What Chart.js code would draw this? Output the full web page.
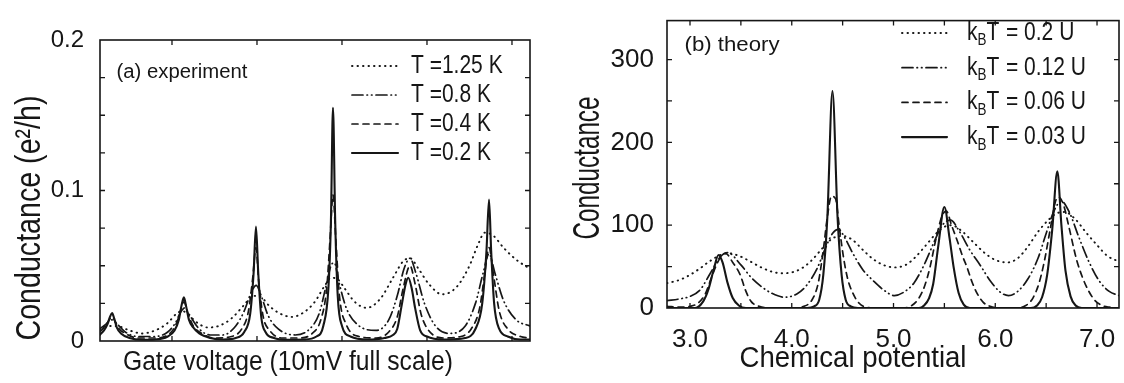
<!DOCTYPE html>
<html>
<head>
<meta charset="utf-8">
<script src="https://cdn.jsdelivr.net/npm/chart.js@4.4.1/dist/chart.umd.min.js"></script>
<style>
html, body { margin: 0; padding: 0; background: #fff; }
#wrap { position: relative; width: 1124px; height: 383px; }
#chartA { position: absolute; left: 0; top: 0; }
#chartB { position: absolute; left: 560px; top: 0; }
</style>
</head>
<body>
<div id="wrap">
  <canvas id="chartA" width="560" height="383"></canvas>
  <canvas id="chartB" width="564" height="383"></canvas>
</div>
<script>
// (a) experiment : gate voltage (arbitrary units, 1 unit = one tick), conductance in e^2/h
const expLabels = ['T =1.25 K', 'T =0.8 K', 'T =0.4 K', 'T =0.2 K'];

const exp125 = [[-0.85,0.008],[-0.75,0.010],[-0.65,0.010],[-0.5,0.007],[-0.35,0.005],[-0.2,0.007],[-0.05,0.012],
  [0.05,0.018],[0.12,0.020],[0.2,0.017],[0.3,0.012],[0.42,0.009],[0.55,0.010],[0.7,0.015],[0.85,0.024],[0.95,0.030],
  [1.05,0.029],[1.15,0.023],[1.28,0.018],[1.41,0.016],[1.55,0.019],[1.68,0.026],[1.8,0.037],[1.87,0.042],[1.95,0.041],
  [2.03,0.035],[2.15,0.026],[2.29,0.022],[2.45,0.028],[2.6,0.042],[2.72,0.053],[2.8,0.055],[2.9,0.048],[3.02,0.038],
  [3.18,0.031],[3.35,0.036],[3.5,0.050],[3.6,0.064],[3.68,0.072],[3.78,0.070],[3.9,0.062],[4.05,0.054],[4.21,0.048]];

const exp08 = [[-0.85,0.008],[-0.78,0.011],[-0.705,0.014],[-0.64,0.011],[-0.55,0.006],[-0.4,0.003],[-0.2,0.003],
  [-0.05,0.006],[0.04,0.012],[0.1,0.019],[0.15,0.022],[0.22,0.016],[0.32,0.008],[0.45,0.004],[0.6,0.004],[0.75,0.010],
  [0.85,0.020],[0.93,0.032],[0.99,0.037],[1.05,0.030],[1.13,0.017],[1.25,0.008],[1.45,0.004],[1.62,0.008],[1.73,0.018],
  [1.81,0.036],[1.87,0.050],[1.91,0.052],[1.96,0.040],[2.05,0.022],[2.18,0.011],[2.4,0.007],[2.55,0.014],[2.65,0.030],
  [2.73,0.048],[2.8,0.055],[2.87,0.045],[2.97,0.025],[3.1,0.010],[3.27,0.005],[3.45,0.010],[3.57,0.025],[3.66,0.045],
  [3.73,0.058],[3.8,0.045],[3.9,0.027],[4.05,0.014],[4.21,0.010]];

const exp04 = [[-0.85,0.006],[-0.8,0.009],[-0.75,0.013],[-0.705,0.016],[-0.67,0.013],[-0.62,0.008],[-0.55,0.005],
  [-0.4,0.002],[-0.2,0.002],[-0.05,0.004],[0.03,0.009],[0.08,0.016],[0.14,0.026],[0.19,0.018],[0.25,0.010],[0.35,0.005],
  [0.5,0.002],[0.7,0.003],[0.82,0.008],[0.9,0.020],[0.95,0.042],[0.988,0.062],[1.02,0.040],[1.07,0.017],[1.15,0.007],
  [1.3,0.002],[1.5,0.002],[1.65,0.005],[1.75,0.014],[1.82,0.035],[1.86,0.068],[1.894,0.097],[1.93,0.065],[1.97,0.030],
  [2.05,0.011],[2.2,0.003],[2.4,0.002],[2.55,0.006],[2.65,0.016],[2.72,0.035],[2.8,0.050],[2.86,0.038],[2.93,0.018],
  [3.02,0.007],[3.2,0.002],[3.4,0.003],[3.52,0.008],[3.62,0.022],[3.68,0.045],[3.73,0.062],[3.78,0.045],[3.85,0.020],
  [3.95,0.008],[4.1,0.003],[4.21,0.002]];

const exp02 = [[-0.85,0.004],[-0.8,0.007],[-0.76,0.011],[-0.73,0.016],[-0.705,0.0185],[-0.68,0.015],[-0.65,0.009],
  [-0.6,0.005],[-0.5,0.002],[-0.35,0.0008],[-0.2,0.001],[-0.05,0.003],[0.03,0.007],[0.08,0.014],[0.11,0.023],[0.14,0.029],
  [0.17,0.022],[0.2,0.014],[0.25,0.009],[0.32,0.005],[0.45,0.002],[0.6,0.001],[0.75,0.002],[0.85,0.006],[0.92,0.018],
  [0.96,0.045],[0.988,0.076],[1.015,0.045],[1.05,0.016],[1.1,0.006],[1.2,0.002],[1.35,0.0008],[1.55,0.001],[1.7,0.003],
  [1.78,0.010],[1.84,0.035],[1.87,0.080],[1.894,0.155],[1.92,0.080],[1.95,0.030],[2.0,0.010],[2.1,0.003],[2.3,0.001],
  [2.5,0.002],[2.6,0.004],[2.65,0.008],[2.7,0.023],[2.75,0.038],[2.78,0.042],[2.82,0.035],[2.86,0.022],[2.92,0.007],
  [3.0,0.003],[3.2,0.001],[3.45,0.002],[3.57,0.008],[3.65,0.025],[3.7,0.060],[3.73,0.094],[3.755,0.060],[3.79,0.025],
  [3.85,0.008],[3.95,0.003],[4.1,0.001],[4.21,0.001]];

// (b) theory : chemical potential vs conductance
const thLabels = ['= 0.2 U', '= 0.12 U', '= 0.06 U', '= 0.03 U'];

const th020 = [[2.774,30],[2.9,34],[3.0,40],[3.1,48],[3.2,57],[3.3,64],[3.38,66],[3.48,63],[3.58,57],[3.7,49],[3.8,44],
  [3.9,42],[4.0,43],[4.1,48],[4.2,58],[4.3,72],[4.4,84],[4.5,87],[4.6,82],[4.7,70],[4.8,59],[4.9,52],[5.01,49],[5.12,52],
  [5.22,62],[5.32,76],[5.42,90],[5.5,98],[5.57,100],[5.67,93],[5.78,80],[5.9,66],[6.0,58],[6.12,55],[6.22,60],[6.32,74],
  [6.42,92],[6.52,106],[6.6,114],[6.68,116],[6.78,108],[6.9,90],[7.0,76],[7.1,63],[7.216,56]];

const th012 = [[2.774,9],[2.9,11],[3.0,14],[3.1,22],[3.2,42],[3.3,62],[3.37,67],[3.5,52],[3.6,37],[3.7,26],[3.8,18],
  [3.93,13],[4.05,17],[4.15,28],[4.25,48],[4.33,72],[4.4,90],[4.46,95],[4.52,85],[4.6,66],[4.7,46],[4.8,33],[4.9,22],
  [5.01,15],[5.1,19],[5.2,30],[5.3,52],[5.4,80],[5.48,100],[5.56,106],[5.65,92],[5.75,70],[5.85,52],[5.95,33],[6.05,19],
  [6.13,15],[6.22,20],[6.32,35],[6.42,60],[6.5,90],[6.58,118],[6.65,129],[6.73,115],[6.82,86],[6.92,56],[7.02,33],
  [7.12,20],[7.216,15]];

const th006 = [[2.774,2],[2.9,1],[3.0,2],[3.08,6],[3.15,17],[3.2,33],[3.26,52],[3.31,63],[3.35,66],[3.42,55],[3.49,41],
  [3.55,20],[3.6,8],[3.68,2],[3.8,0],[4.0,0],[4.12,2],[4.2,10],[4.26,30],[4.31,70],[4.35,110],[4.39,135],[4.43,132],
  [4.47,95],[4.51,60],[4.55,35],[4.6,18],[4.66,6],[4.73,1],[4.85,0],[5.1,0],[5.18,3],[5.25,12],[5.31,28],[5.36,50],
  [5.42,85],[5.48,112],[5.52,117],[5.57,100],[5.63,80],[5.68,62],[5.72,50],[5.77,32],[5.82,18],[5.88,7],[5.95,2],
  [6.05,0],[6.2,0],[6.3,3],[6.37,12],[6.43,30],[6.48,55],[6.54,95],[6.59,128],[6.62,134],[6.67,125],[6.72,100],
  [6.8,58],[6.86,36],[6.92,20],[6.98,9],[7.05,3],[7.12,1],[7.216,0]];

const th003 = [[2.774,0],[3.05,0],[3.13,8],[3.18,22],[3.23,45],[3.28,64],[3.32,55],[3.37,30],[3.42,12],[3.48,3],
  [3.55,0],[4.15,0],[4.22,2],[4.27,10],[4.31,40],[4.35,110],[4.4,262],[4.45,110],[4.49,40],[4.53,10],[4.58,2],[4.65,0],
  [5.25,0],[5.3,3],[5.35,12],[5.39,29],[5.44,75],[5.5,122],[5.55,85],[5.59,50],[5.64,18],[5.69,4],[5.75,0],[6.35,0],
  [6.41,3],[6.46,13],[6.51,40],[6.56,95],[6.61,165],[6.65,100],[6.69,45],[6.74,14],[6.79,3],[6.85,0],[7.216,0]];

const ink = '#161616';
const fam = '"Liberation Sans", Arimo, "DejaVu Sans", sans-serif';

// line styles, dotted / dash-dot-dot / dashed / solid
const lineStyles = [
  { dash: [0.5, 5], width: 1.9 },
  { dash: [11, 4, 0.5, 4, 0.5, 4], width: 1.7 },
  { dash: [6, 5], width: 1.7 },
  { dash: [], width: 2.1 }
];

function makeSets(series, labels) {
  return series.map((s, i) => ({
    label: labels[i],
    data: s.map(p => ({ x: p[0], y: p[1] })),
    borderColor: ink,
    borderWidth: lineStyles[i].width,
    borderDash: lineStyles[i].dash,
    borderCapStyle: 'round',
    borderJoinStyle: 'round',
    cubicInterpolationMode: 'monotone',
    showLine: true,
    pointRadius: 0,
    fill: false
  }));
}

// text squeezed horizontally so it reads like the narrow type of the scan
function narrowText(ctx, t, x, y, size, width, rot) {
  ctx.save();
  ctx.font = size + 'px ' + fam;
  const s = width / ctx.measureText(t).width;
  ctx.translate(x, y);
  if (rot) ctx.rotate(-Math.PI / 2);
  ctx.scale(s, 1);
  ctx.textAlign = 'center';
  ctx.textBaseline = 'middle';
  ctx.fillText(t, 0, 0);
  ctx.restore();
}

// frame, inward ticks, titles and the hand drawn key
const decor = {
  id: 'decor',
  afterDatasetsDraw(chart, args, o) {
    const { ctx, chartArea: a, scales } = chart;
    ctx.save();
    ctx.strokeStyle = ink;
    ctx.fillStyle = ink;
    ctx.lineWidth = 1.6;
    ctx.setLineDash([]);
    ctx.strokeRect(a.left, a.top, a.right - a.left, a.bottom - a.top);

    ctx.lineWidth = 1.3;
    ctx.beginPath();
    scales.x.ticks.forEach(t => {
      const px = scales.x.getPixelForValue(t.value);
      if (px <= a.left + 1 || px >= a.right - 1) return;
      ctx.moveTo(px, a.bottom); ctx.lineTo(px, a.bottom - o.tick);
      ctx.moveTo(px, a.top); ctx.lineTo(px, a.top + o.tick);
    });
    scales.y.ticks.forEach(t => {
      const py = scales.y.getPixelForValue(t.value);
      if (py <= a.top + 1 || py >= a.bottom - 1) return;
      ctx.moveTo(a.left, py); ctx.lineTo(a.left + o.tick, py);
      ctx.moveTo(a.right, py); ctx.lineTo(a.right - o.tick, py);
    });
    ctx.stroke();

    narrowText(ctx, o.tag.text, o.tag.x, o.tag.y, o.tag.size, o.tag.w, false);
    narrowText(ctx, o.xTitle.text, o.xTitle.x, o.xTitle.y, o.xTitle.size, o.xTitle.w, false);
    narrowText(ctx, o.yTitle.text, o.yTitle.x, o.yTitle.y, o.yTitle.size, o.yTitle.w, true);

    // key
    const k = o.key;
    chart.data.datasets.forEach((ds, i) => {
      const y = k.y0 + i * k.dy;
      ctx.lineWidth = ds.borderWidth;
      ctx.lineCap = ds.borderCapStyle;
      ctx.setLineDash(ds.borderDash);
      ctx.beginPath();
      ctx.moveTo(k.x1, y);
      ctx.lineTo(k.x2, y);
      ctx.stroke();
      ctx.setLineDash([]);

      ctx.save();
      ctx.translate(k.tx, y);
      ctx.scale(k.sx, 1);
      ctx.textAlign = 'left';
      ctx.textBaseline = 'middle';
      ctx.font = k.size + 'px ' + fam;
      let x = 0;
      if (k.kB) {
        ctx.fillText('k', x, 0);
        x += ctx.measureText('k').width;
        ctx.font = Math.round(k.size * 0.65) + 'px ' + fam;
        ctx.fillText('B', x, 8);
        x += ctx.measureText('B').width;
        ctx.font = k.size + 'px ' + fam;
        ctx.fillText('T', x, 0);
        x += ctx.measureText('T').width + 8;
      }
      ctx.fillText(ds.label, x, 0);
      ctx.restore();
    });
    ctx.restore();
  }
};

function fixWidth(w) { return s => { s.width = w; }; }
function fixHeight(h) { return s => { s.height = h; }; }

const chartA = new Chart(document.getElementById('chartA'), {
  type: 'scatter',
  data: { datasets: makeSets([exp125, exp08, exp04, exp02], expLabels) },
  options: {
    responsive: false,
    animation: false,
    layout: { padding: { top: 40, right: 30, left: 0, bottom: 0 } },
    plugins: {
      legend: { display: false },
      tooltip: { enabled: false },
      decor: {
        tick: 5,
        tag: { text: '(a) experiment', x: 182, y: 72, size: 20, w: 131 },
        xTitle: { text: 'Gate voltage (10mV full scale)', x: 288, y: 363, size: 27, w: 330 },
        yTitle: { text: 'Conductance (e\u00B2/h)', x: 30, y: 218, size: 35, w: 245 },
        key: { x1: 352, x2: 398, tx: 411, y0: 66, dy: 29, size: 25, sx: 0.84, kB: false }
      }
    },
    scales: {
      x: {
        type: 'linear', min: -0.847, max: 4.212,
        grid: { display: false }, border: { display: false },
        ticks: { stepSize: 1, includeBounds: false, callback: () => '' },
        afterFit: fixHeight(42)
      },
      y: {
        type: 'linear', min: 0, max: 0.2,
        grid: { display: false }, border: { display: false },
        ticks: {
          stepSize: 0.025, includeBounds: false, autoSkip: false, padding: 8,
          color: ink, font: { family: fam, size: 24 },
          callback: v => {
            if (Math.abs(v) < 1e-9) return '0';
            return Math.abs(v * 10 - Math.round(v * 10)) < 1e-6 ? v.toFixed(1) : '';
          }
        },
        afterFit: fixWidth(100)
      }
    }
  },
  plugins: [decor]
});

const chartB = new Chart(document.getElementById('chartB'), {
  type: 'scatter',
  data: { datasets: makeSets([th020, th012, th006, th003], thLabels) },
  options: {
    responsive: false,
    animation: false,
    layout: { padding: { top: 10, right: 5, left: 0, bottom: 0 } },
    plugins: {
      legend: { display: false },
      tooltip: { enabled: false },
      decor: {
        tick: 5,
        tag: { text: '(b) theory', x: 172, y: 45, size: 20, w: 95 },
        xTitle: { text: 'Chemical potential', x: 293, y: 359, size: 30, w: 227 },
        yTitle: { text: 'Conductance', x: 29, y: 168, size: 36, w: 143 },
        key: { x1: 342, x2: 387, tx: 407, y0: 33, dy: 34.7, size: 25, sx: 0.84, kB: true }
      }
    },
    scales: {
      x: {
        type: 'linear', min: 2.774, max: 7.216,
        grid: { display: false }, border: { display: false },
        ticks: {
          stepSize: 0.5, includeBounds: false, autoSkip: false, padding: 8, maxRotation: 0,
          color: ink, font: { family: fam, size: 26 },
          callback: v => Math.abs(v - Math.round(v)) < 1e-6 ? v.toFixed(1) : ''
        },
        afterFit: fixHeight(75)
      },
      y: {
        type: 'linear', min: 0, max: 347,
        grid: { display: false }, border: { display: false },
        ticks: {
          stepSize: 50, includeBounds: false, autoSkip: false, padding: 5,
          color: ink, font: { family: fam, size: 26 },
          callback: v => v % 100 === 0 ? String(v) : ''
        },
        afterFit: fixWidth(107)
      }
    }
  },
  plugins: [decor]
});
</script>
</body>
</html>
